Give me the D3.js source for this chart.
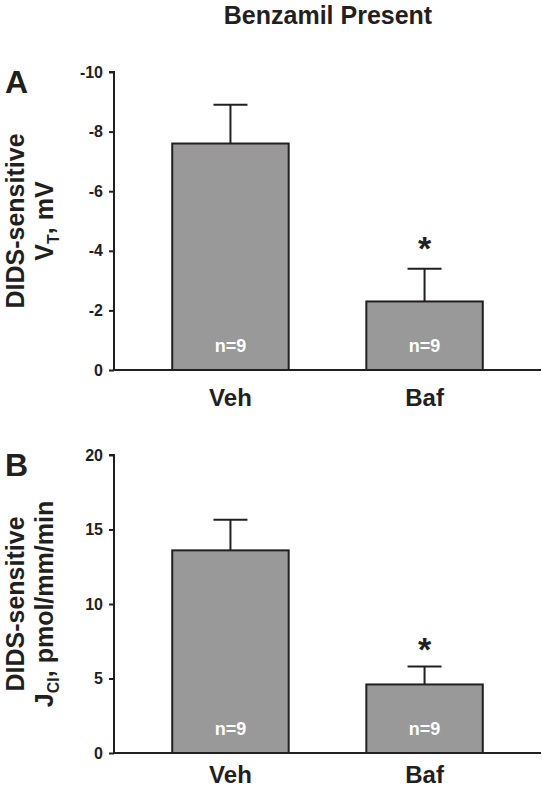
<!DOCTYPE html>
<html>
<head>
<meta charset="utf-8">
<script src="https://cdn.jsdelivr.net/npm/d3@7"></script>
<style>
  html, body { margin: 0; padding: 0; background: #fff; }
  svg { display: block; font-family: "Liberation Sans", Arial, sans-serif; font-weight: bold; }
</style>
</head>
<body>
<svg id="chart" width="542" height="789"></svg>
<script>
// ---- data ----
const categories = ["Veh", "Baf"];
const nLabels = ["n=9", "n=9"];
const vtMeans = [-7.6, -2.3];
const vtSem = [-1.3, -1.1];
const vtTicks = [0, -2, -4, -6, -8, -10];
const vtSig = [false, true];
const jclMeans = [13.6, 4.6];
const jclSem = [2.05, 1.2];
const jclTicks = [0, 5, 10, 15, 20];
const jclSig = [false, true];

const svg = d3.select("#chart");
const axisX = 114, plotRight = 541;
const barColor = "#999999", ink = "#231f20";

svg.append("text").attr("x", 328).attr("y", 24).attr("text-anchor", "middle")
  .attr("font-size", 25).attr("fill", ink).text("Benzamil Present");

function panel(cfg) {
  const x = d3.scaleBand().domain(categories).range([axisX, plotRight])
    .paddingInner(0.4).paddingOuter(0.3);
  const y = d3.scaleLinear().domain(cfg.domain).range([cfg.bottom, cfg.top]);
  const g = svg.append("g");

  // bars
  g.selectAll("rect.bar").data(categories).enter().append("rect")
    .attr("x", d => x(d)).attr("width", x.bandwidth())
    .attr("y", (d, i) => y(cfg.means[i]))
    .attr("height", (d, i) => y(0) - y(cfg.means[i]))
    .attr("fill", barColor).attr("stroke", ink).attr("stroke-width", 2);

  // error bars
  const capW = 34;
  categories.forEach((c, i) => {
    const cx = x(c) + x.bandwidth() / 2;
    const top = cfg.means[i] + cfg.sem[i];
    g.append("line").attr("x1", cx).attr("x2", cx)
      .attr("y1", y(cfg.means[i])).attr("y2", y(top))
      .attr("stroke", ink).attr("stroke-width", 2);
    g.append("line").attr("x1", cx - capW / 2).attr("x2", cx + capW / 2)
      .attr("y1", y(top)).attr("y2", y(top))
      .attr("stroke", ink).attr("stroke-width", 2);
    if (cfg.sig[i]) {
      g.append("text").attr("x", cx).attr("y", y(top) - cfg.starGap)
        .attr("text-anchor", "middle").attr("font-size", 34).attr("fill", ink).text("*");
    }
    g.append("text").attr("x", cx).attr("y", y(0) - 18)
      .attr("text-anchor", "middle").attr("font-size", 18).attr("fill", "#ffffff")
      .text(nLabels[i]);
    g.append("text").attr("x", cx).attr("y", y(0) + cfg.catGap)
      .attr("text-anchor", "middle").attr("font-size", 24).attr("fill", ink).text(c);
  });

  // baseline
  g.append("line").attr("x1", axisX).attr("x2", plotRight)
    .attr("y1", y(0)).attr("y2", y(0)).attr("stroke", ink).attr("stroke-width", 2);

  // y axis
  const ax = g.append("g").attr("transform", `translate(${axisX},0)`)
    .call(d3.axisLeft(y).tickValues(cfg.ticks).tickSize(5).tickPadding(6).tickFormat(d3.format("d")));
  ax.select(".domain").attr("stroke", ink).attr("stroke-width", 2)
    .attr("d", `M-5,${cfg.top}H0V${cfg.bottom}`);
  ax.selectAll(".tick line").attr("stroke", ink).attr("stroke-width", 2);
  ax.selectAll(".tick text").attr("font-size", 16).attr("font-family", null)
    .attr("fill", ink).text(d => d3.format("d")(d).replace("−", "-"));

  // panel letter
  svg.append("text").attr("x", 5).attr("y", cfg.top + 21).attr("font-size", 32)
    .attr("fill", ink).text(cfg.letter);

  // y label
  const cy = (cfg.top + cfg.bottom) / 2;
  const l1 = svg.append("text").attr("transform", `translate(24,${cy}) rotate(-90)`)
    .attr("text-anchor", "middle").attr("font-size", 25).attr("fill", ink);
  l1.text("DIDS-sensitive");
  const l2 = svg.append("text").attr("transform", `translate(53,${cy}) rotate(-90)`)
    .attr("text-anchor", "middle").attr("font-size", 25).attr("fill", ink);
  l2.append("tspan").text(cfg.lab2[0]);
  l2.append("tspan").attr("font-size", 16).attr("dy", 6).text(cfg.lab2[1]);
  l2.append("tspan").attr("dy", -6).text(cfg.lab2[2]);
}

panel({ letter: "A", domain: [0, -10], top: 72, bottom: 370, means: vtMeans, sem: vtSem,
  ticks: vtTicks, sig: vtSig, starGap: 9, catGap: 36, lab2: ["V", "T", ", mV"] });
panel({ letter: "B", domain: [0, 20], top: 455, bottom: 753, means: jclMeans, sem: jclSem,
  ticks: jclTicks, sig: jclSig, starGap: 6, catGap: 30, lab2: ["J", "Cl", ", pmol/mm/min"] });
</script>
</body>
</html>
